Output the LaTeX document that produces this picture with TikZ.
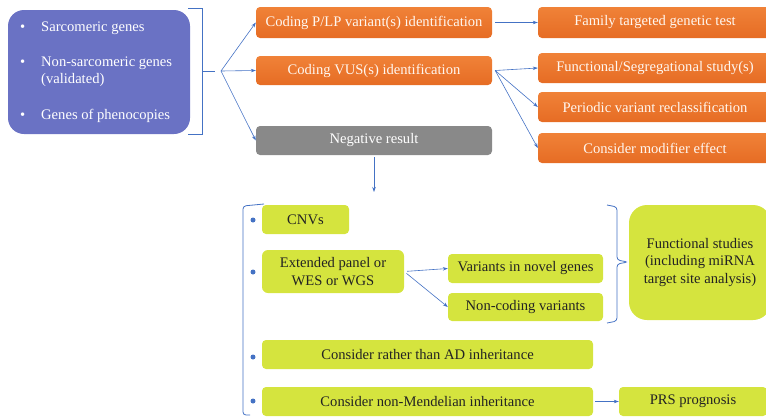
\documentclass[tikz,border=0pt]{standalone}
\usepackage{fontspec}
\setmainfont{Liberation Serif}
\usetikzlibrary{arrows.meta}

\definecolor{purplebox}{RGB}{106,114,196}
\definecolor{orangetop}{RGB}{240,130,56}
\definecolor{orangebot}{RGB}{230,108,36}
\definecolor{greybox}{RGB}{137,137,137}
\definecolor{limebox}{RGB}{213,228,62}
\definecolor{linkblue}{RGB}{68,114,196}
\definecolor{textdark}{RGB}{35,35,35}

\begin{document}
\begin{tikzpicture}[x=1pt,y=-1pt,
	every node/.style={font=\fontsize{14.6}{17.5}\selectfont},
	orangestep/.style={rectangle,rounded corners=4pt,top color=orangetop,bottom color=orangebot,draw=none,
		text=white!94!orange,inner sep=0pt,minimum height=30pt},
	greystep/.style={rectangle,rounded corners=4pt,fill=greybox,text=white,inner sep=0pt,minimum height=29pt},
	limestep/.style={rectangle,rounded corners=4pt,fill=limebox,text=textdark,inner sep=0pt,align=center,minimum height=29pt},
	link/.style={-{Stealth[length=5pt,width=3.5pt]},linkblue,line width=0.6pt},
	brace/.style={linkblue,line width=0.8pt},
	bluedot/.style={circle,fill=linkblue,inner sep=0pt,minimum size=5pt},
	itemtext/.style={anchor=west,text=white,inner sep=0pt,align=left}
	]
	\useasboundingbox (0,0) rectangle (766,416);

	% gene panel
	\node[rectangle,rounded corners=16pt,fill=purplebox,minimum width=182pt,minimum height=124pt] (genes) at (99,72) {};
	\node[itemtext] (b1) at (20,28) {\textbullet};
	\node[itemtext] (b2) at (20,63) {\textbullet};
	\node[itemtext] (b3) at (20,116) {\textbullet};
	\node[itemtext] (sarc) at (41,28) {Sarcomeric genes};
	\node[itemtext] (nonsarc) at (41,71.5) {Non-sarcomeric genes\\(validated)};
	\node[itemtext] (pheno) at (41,116) {Genes of phenocopies};
	\draw[brace] (188,8) -- (202,8) -- (202,134) -- (188,134);
	\draw[brace] (202,71) -- (215,71);
	\coordinate (fork) at (221,71);

	% first results
	\node[orangestep,minimum width=236pt,minimum height=31pt] (plp) at (374,22.5) {Coding P/LP variant(s) identification};
	\node[orangestep,minimum width=236pt,minimum height=29pt] (vus) at (374,70.5) {Coding VUS(s) identification};
	\node[greystep,minimum width=236pt] (neg) at (374,140.5) {Negative result};
	\draw[link] (fork) -- (plp.west);
	\draw[link] (fork) -- (vus.west);
	\draw[link] (fork) -- (neg.west);

	% follow up
	\node[orangestep,minimum width=234pt,minimum height=31pt] (family) at (655,22.5) {Family targeted genetic test};
	\node[orangestep,minimum width=234pt] (func) at (655,68) {Functional/Segregational study(s)};
	\node[orangestep,minimum width=234pt] (period) at (655,107) {Periodic variant reclassification};
	\node[orangestep,minimum width=234pt] (modif) at (655,148) {Consider modifier effect};
	\draw[link,shorten <=3pt] (plp.east) -- (family.west);
	\coordinate (vusfork) at ([xshift=3pt]vus.east);
	\draw[link] (vusfork) -- (func.west);
	\draw[link] (vusfork) -- (period.west);
	\draw[link] (vusfork) -- (modif.west);

	% negative result
	\coordinate (negdown) at (373,192);
	\draw[link,shorten <=2pt] (neg.south) -- (neg.south |- negdown);
	\draw[brace,rounded corners=3pt] (264,204) -- (243,206) -- (243,415) -- (250,415);
	\node[bluedot] (d1) at (253,220) {};
	\node[bluedot] (d2) at (253,272) {};
	\node[bluedot] (d3) at (253,357) {};
	\node[bluedot] (d4) at (253,401) {};
	\node[limestep,minimum width=87pt] (cnv) at (305.5,219.5) {CNVs};
	\node[limestep,rounded corners=6pt,minimum width=142pt,minimum height=43pt] (ext) at (333,271.5) {Extended panel or\\WES or WGS};
	\node[limestep,minimum width=155pt] (novel) at (525.5,268.5) {Variants in novel genes};
	\node[limestep,minimum width=155pt,minimum height=28pt] (noncod) at (525.5,307) {Non-coding variants};
	\draw[link,shorten <=3pt] (ext.east) -- (novel.west);
	\draw[link,shorten <=3pt] (ext.east) -- (noncod.west);
	\draw[brace,rounded corners=3pt] (607,205) -- (617,207) -- (617,260) -- (628,262) -- (617,264) -- (617,321) -- (607,323);
	\node[limestep,rounded corners=18pt,minimum width=142pt,minimum height=115pt] (fstud) at (700,262.5) {Functional studies\\(including miRNA\\target site analysis)};
	\node[limestep,minimum width=331pt] (rather) at (427.5,354.5) {Consider rather than AD inheritance};
	\node[limestep,minimum width=331pt] (nonmend) at (427.5,401.5) {Consider non-Mendelian inheritance};
	\node[limestep,minimum width=148pt] (prs) at (693,401.5) {PRS prognosis};
	\draw[link,shorten <=2pt] (nonmend.east) -- (prs.west);
\end{tikzpicture}
\end{document}
